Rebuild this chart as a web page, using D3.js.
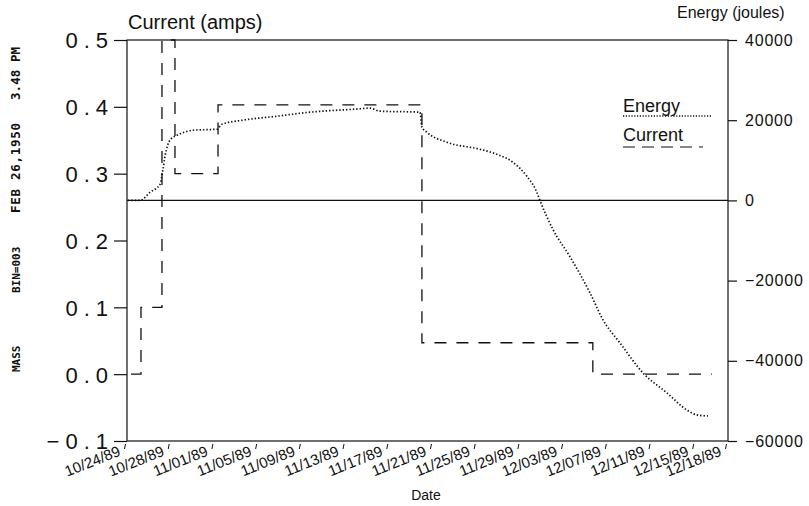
<!DOCTYPE html>
<html>
<head>
<meta charset="utf-8">
<script src="https://cdn.jsdelivr.net/npm/d3@7"></script>
<style>
  body { margin: 0; background: #fff; }
  text { font-family: "Liberation Sans", Arial, sans-serif; fill: #111; }
  .stamp { font-family: "DejaVu Sans Mono", monospace; font-weight: bold; }
</style>
</head>
<body>
<svg id="chart" width="809" height="506"></svg>
<script>
// tick labels
const dateTicks = ["10/24/89", "10/28/89", "11/01/89", "11/05/89", "11/09/89", "11/13/89", "11/17/89",
  "11/21/89", "11/25/89", "11/29/89", "12/03/89", "12/07/89", "12/11/89", "12/15/89", "12/18/89"];
const currentTicks = [-0.1, 0.0, 0.1, 0.2, 0.3, 0.4, 0.5];
const energyTicks = [-60000, -40000, -20000, 0, 20000, 40000];

// current (amps), step series: days since 10/24/89
const currentDays = [0.37, 1.28, 3.2, 4.39, 8.33, 26.99, 42.63, 53.52];
const currentAmps = [0.0, 0.1, 0.5, 0.3, 0.403, 0.047, 0.0, 0.0];

// energy (joules): days since 10/24/89
const energyDays = [0.09, 1.19, 2.1, 3.02, 3.29, 3.48, 3.75, 4.21, 4.39, 6.04, 8.23, 8.69, 10.61, 13.72,
  16.74, 20.86, 22.23, 23.15, 26.81, 26.99, 27.44, 29.28, 32.3, 33.85, 35.32, 36.6, 37.51, 37.79,
  38.98, 40.53, 42.36, 43.55, 45.1, 47.21, 49.41, 51.23, 52.15, 53.16];
const energyJoules = [0, 0, 2000, 4000, 7750, 11000, 14000, 15750, 16000, 17500, 17750, 19000, 20000, 21000,
  22000, 22750, 23000, 22250, 22000, 18250, 17000, 14500, 12750, 11500, 9500, 6000, 2000, 0,
  -7250, -14000, -23000, -29750, -35500, -43000, -48000, -52250, -53500, -53750];

const svg = d3.select("#chart");
const plotL = 127, plotR = 728, plotT = 40, plotB = 441;

const parse = d3.timeParse("%m/%d/%y");
const start = parse(dateTicks[0]);
const toDate = d => new Date(start.getTime() + d * 864e5);

const x = d3.scaleTime()
  .domain([start, parse(dateTicks[dateTicks.length - 1])])
  .range([plotL, plotR]);
const yL = d3.scaleLinear().domain([-0.1, 0.5]).range([plotB, plotT]);
const yR = d3.scaleLinear().domain([-60000, 40000]).range([plotB, plotT]);

// frame + zero line of energy
svg.append("rect")
  .attr("x", plotL).attr("y", plotT)
  .attr("width", plotR - plotL).attr("height", plotB - plotT)
  .attr("fill", "none").attr("stroke", "#111").attr("stroke-width", 1.2);
svg.append("line")
  .attr("x1", plotL).attr("x2", plotR)
  .attr("y1", yR(0)).attr("y2", yR(0))
  .attr("stroke", "#111").attr("stroke-width", 1.2);

// left axis
const gL = svg.append("g")
  .attr("transform", `translate(${plotL},0)`)
  .call(d3.axisLeft(yL).tickValues(currentTicks).tickFormat(d3.format(".1f")).tickSize(13).tickPadding(0));
gL.select(".domain").remove();
gL.selectAll("line").attr("stroke", "#111").attr("stroke-width", 1.2);
gL.selectAll("text")
  .style("font-size", "22px")
  .style("letter-spacing", "6px")
  .attr("dy", "0.36em");

// right axis
const gR = svg.append("g")
  .attr("transform", `translate(${plotR},0)`)
  .call(d3.axisRight(yR).tickValues(energyTicks).tickFormat(d3.format("d")).tickSize(9).tickPadding(8));
gR.select(".domain").remove();
gR.selectAll("line").attr("stroke", "#111").attr("stroke-width", 1.2);
gR.selectAll("text")
  .style("font-size", "16px")
  .style("letter-spacing", "0.8px");

// bottom axis
const gB = svg.append("g")
  .attr("transform", `translate(0,${plotB})`)
  .call(d3.axisBottom(x).tickValues(dateTicks.map(parse)).tickFormat(d3.timeFormat("%m/%d/%y")).tickSize(0));
gB.select(".domain").remove();
gB.selectAll("text")
  .attr("y", 0).attr("dy", 0)
  .attr("text-anchor", "end")
  .attr("transform", "translate(-6,14) rotate(-22)")
  .style("font-size", "15px");
gB.selectAll(".tick").append("line")
  .attr("x1", -2).attr("y1", 3).attr("x2", -3).attr("y2", 8)
  .attr("stroke", "#111").attr("stroke-width", 1);

// axis titles
svg.append("text").attr("x", 128).attr("y", 29).style("font-size", "20px").text("Current (amps)");
svg.append("text").attr("x", 677).attr("y", 18).style("font-size", "16px").text("Energy (joules)");
svg.append("text").attr("x", 426).attr("y", 500).attr("text-anchor", "middle").style("font-size", "14px").text("Date");

// series
const energy = energyDays.map((d, i) => ({ date: toDate(d), v: energyJoules[i] }));
const current = currentDays.map((d, i) => ({ date: toDate(d), v: currentAmps[i] }));

svg.append("path")
  .datum(current)
  .attr("fill", "none")
  .attr("stroke", "#111")
  .attr("stroke-width", 1.3)
  .attr("stroke-dasharray", "12,10")
  .attr("d", d3.line().x(d => x(d.date)).y(d => yL(d.v)).curve(d3.curveStepAfter));

svg.append("path")
  .datum(energy)
  .attr("fill", "none")
  .attr("stroke", "#111")
  .attr("stroke-width", 1.7)
  .attr("stroke-dasharray", "1.4,2")
  .attr("d", d3.line().x(d => x(d.date)).y(d => yR(d.v)).curve(d3.curveMonotoneX));

// legend
const legend = svg.append("g");
legend.append("text").attr("x", 623).attr("y", 112).style("font-size", "18px").text("Energy");
legend.append("line").attr("x1", 623).attr("x2", 712).attr("y1", 116).attr("y2", 116)
  .attr("stroke", "#111").attr("stroke-width", 1.5).attr("stroke-dasharray", "1.2,1.6");
legend.append("text").attr("x", 623).attr("y", 141).style("font-size", "18px").text("Current");
legend.append("line").attr("x1", 623).attr("x2", 703).attr("y1", 147).attr("y2", 147)
  .attr("stroke", "#111").attr("stroke-width", 1.2).attr("stroke-dasharray", "12,7");

// vertical stamp text on the left
const stamps = [
  { t: "FEB 26,1950", y0: 213, size: 12.5, len: 90 },
  { t: "3.48 PM", y0: 100, size: 12.5, len: 53 },
  { t: "BIN=003", y0: 293, size: 11, len: null },
  { t: "MASS", y0: 372, size: 11, len: null }
];
stamps.forEach(s => {
  const t = svg.append("text")
    .attr("class", "stamp")
    .attr("transform", `translate(20,${s.y0}) rotate(-90)`)
    .style("font-size", s.size + "px")
    .text(s.t);
  if (s.len) t.attr("textLength", s.len).attr("lengthAdjust", "spacing");
});
</script>
</body>
</html>
